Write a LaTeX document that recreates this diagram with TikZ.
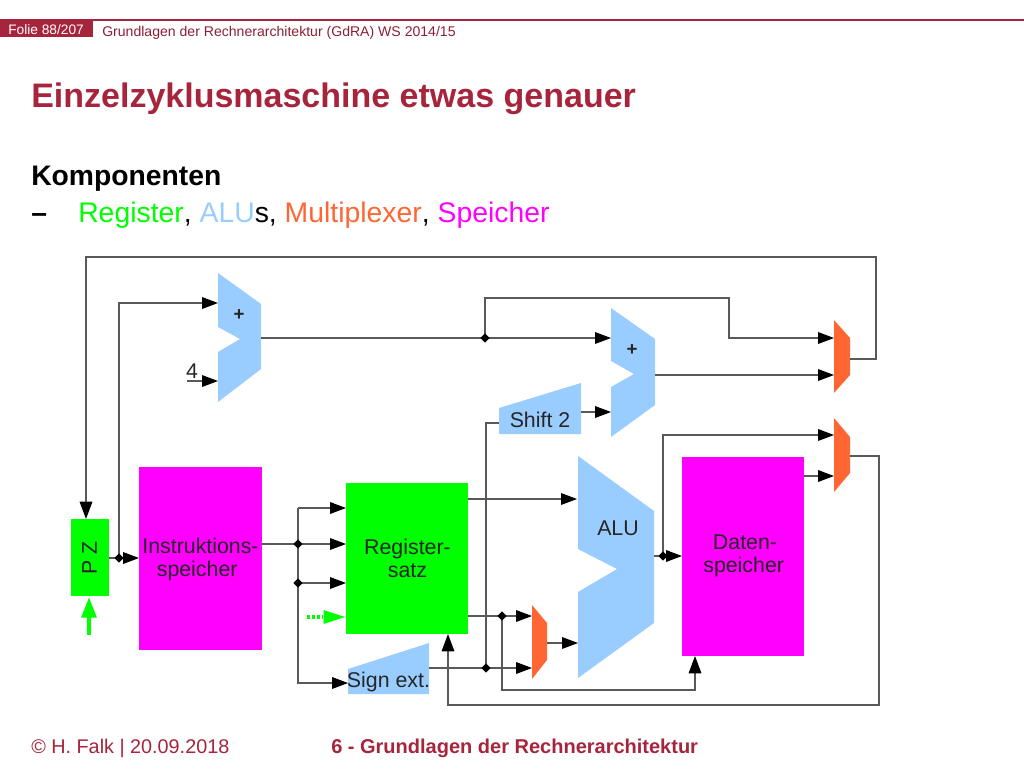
\documentclass[tikz,border=0pt]{standalone}
\usepackage{fontspec}
\setmainfont{Liberation Sans}
\usetikzlibrary{arrows.meta,shapes.geometric}
\definecolor{lred}{HTML}{A6243C}
\definecolor{lblue}{HTML}{99CCFF}
\definecolor{lorange}{HTML}{FF6633}
\definecolor{lmag}{HTML}{FF00FF}
\definecolor{lgreen}{HTML}{00FF00}
\tikzset{
  wire/.style={draw=black!65,line width=0.8pt},
  arr/.style={wire,-{Triangle[length=12pt,width=8.8pt,black]}},
  varr/.style={wire,-{Triangle[length=13pt,width=9.5pt,black]}},
  junction/.style={diamond,fill=black,inner sep=0pt,minimum size=7pt},
  block/.style={anchor=north west,inner sep=0pt,align=center},
  label/.style={inner sep=0pt,text=black!85,align=center,font=\fontsize{16}{18}\selectfont},
  ttext/.style={anchor=base west,inner sep=0pt},
}
\begin{document}
\begin{tikzpicture}[x=0.75pt,y=-0.75pt]
\useasboundingbox (0,0) rectangle (1024,768);
% header
\fill[lred] (0,20) rectangle (93,37);
\draw[lred,line width=1pt] (0,20) -- (1024,20);
\node[ttext,text=white,font=\fontsize{10.3}{12}\selectfont] (folie) at (8,34.5) {Folie 88/207};
\node[ttext,text=lred!85!black,font=\fontsize{10.55}{12}\selectfont] (head) at (102,36) {Grundlagen der Rechnerarchitektur (GdRA) WS 2014/15};
\node[ttext,text=lred,font=\bfseries\fontsize{25.5}{30}\selectfont] (title) at (31,107) {Einzelzyklusmaschine etwas genauer};
\node[ttext,text=black,font=\bfseries\fontsize{21.2}{24}\selectfont] (komp) at (31,185) {Komponenten};
\node[ttext,font=\bfseries\fontsize{21.2}{24}\selectfont] (dash) at (31,222) {–};
\node[ttext,font=\fontsize{21.27}{24}\selectfont] (list) at (78,222) {\textcolor{lgreen}{Register}, \textcolor{lblue}{ALU}s, \textcolor{lorange}{Multiplexer}, \textcolor{lmag}{Speicher}};
\node[ttext,text=lred,font=\fontsize{14.85}{18}\selectfont] (foot1) at (31,753) {© H. Falk | 20.09.2018};
\node[ttext,text=lred,font=\bfseries\fontsize{15}{18}\selectfont] (foot2) at (331,753) {6 - Grundlagen der Rechnerarchitektur};
% rectangles
\node[block,fill=lgreen,minimum width=28.5pt,minimum height=57.75pt] (pz) at (71,519) {};
\node[block,fill=lmag,minimum width=92.25pt,minimum height=137.25pt] (imem) at (139,467) {};
\node[block,fill=lgreen,minimum width=91.5pt,minimum height=113.25pt] (regs) at (346,483) {};
\node[block,fill=lmag,minimum width=91.5pt,minimum height=149.25pt] (dmem) at (682,457) {};
% ALU and adders
\fill[lblue] (578,456) -- (654,511) -- (654,623) -- (578,678) -- (578,592) -- (617,569) -- (578,549) -- cycle;
\fill[lblue] (218,273) -- (261,304) -- (261,369) -- (218,402) -- (218,352) -- (240,339) -- (218,327) -- cycle;
\fill[lblue] (611,308) -- (655,339) -- (655,405) -- (611,437) -- (611,387) -- (634,374) -- (611,361) -- cycle;
\fill[lblue] (499,408) -- (581,383) -- (581,434) -- (499,434) -- cycle;
\fill[lblue] (348,669) -- (429,643) -- (429,694) -- (348,694) -- cycle;
% multiplexers
\fill[lorange] (532,605) -- (547,623) -- (547,660) -- (532,679) -- cycle;
\fill[lorange] (834,320) -- (850,338) -- (850,375) -- (834,393) -- cycle;
\fill[lorange] (834,418) -- (850,437) -- (850,473) -- (834,492) -- cycle;
% texts
\node[label] (pzt) at (89.5,558) {\rotatebox{90}{P Z}};
\node[label,font=\fontsize{16}{17.25}\selectfont] (imt) at (200.5,559) {Instruktions-\\speicher\hspace*{5pt}};
\node[label,font=\fontsize{16}{17.25}\selectfont] (rgt) at (407.5,558.5) {Register-\\satz};
\node[label,font=\fontsize{16}{17.25}\selectfont] (dmt) at (745,556) {Daten-\\speicher\hspace*{2pt}};
\node[label] (alut) at (618,528) {ALU};
\node[label] (sh) at (540,420) {Shift 2};
\node[label] (se) at (388.5,681.5) {Sign ext.};
\node[label,font=\bfseries\fontsize{14}{16}\selectfont] (p1) at (239,315) {+};
\node[label,font=\bfseries\fontsize{14}{16}\selectfont] (p2) at (632,350) {+};
\node[label] (four) at (192,371) {4};
% ports
\foreach \n/\x/\y in {
 topR/876/359, muxTopOut/850/359, topC/876/257, topL/86/257, pzIn/86/519,
 pzOut/109/558, imIn/139/558, j1/119/558, a1Top/119/303, a1In/218/303,
 fourS/187/381, a1In2/218/381,
 a1Out/261/338, a2In/611/338, j2/485/338, b1/485/298, b2/729/298, b3/729/338, muxTopIn1/834/338,
 a2Out/655/375, muxTopIn2/834/375,
 shOut/581/412, a2In2/611/412,
 seOut/429/668, muxIn2/532/668, j3/486/668, sh1/486/423, shIn/499/423,
 r1/468/499, aluIn/577/499,
 r2/468/616, muxIn1/532/616, j4/502/616, c1/502/690, c2/695/690, c3/695/656,
 muxOut/547/643, aluIn2/578/643,
 aluOut/654/556, dIn/682/556, j5/663/556, e1/663/435, muxRIn1/834/435,
 dOut/804/476, muxRIn2/834/476,
 muxROut/850/456, f1/879/456, f2/879/705, f3/448/705, regIn/448/634,
 imOut/262/544, regI2/346/544, j6/298/544, g1/298/508, regI1/346/508,
 j7/298/583, regI3/346/583, g2/298/683, seIn/348/683,
 gd1/307/617, gd2/323/617, regI4/346/617, gu1/89/635, gu2/89/597}
 {\coordinate (\n) at (\x,\y);}
% wires
\draw[varr] (muxTopOut) -- (topR) -- (topC) -- (topL) -- (pzIn);
\draw[arr] (pzOut) -- (imIn);
\draw[arr] (j1) -- (a1Top) -- (a1In);
\draw[arr] (fourS) -- (a1In2);
\draw[arr] (a1Out) -- (a2In);
\draw[arr] (j2) -- (b1) -- (b2) -- (b3) -- (muxTopIn1);
\draw[arr] (a2Out) -- (muxTopIn2);
\draw[arr] (shOut) -- (a2In2);
\draw[arr] (seOut) -- (muxIn2);
\draw[wire] (j3) -- (sh1) -- (shIn);
\draw[arr] (r1) -- (aluIn);
\draw[arr] (r2) -- (muxIn1);
\draw[varr] (j4) -- (c1) -- (c2) -- (c3);
\draw[arr] (muxOut) -- (aluIn2);
\draw[arr] (aluOut) -- (dIn);
\draw[arr] (j5) -- (e1) -- (muxRIn1);
\draw[arr] (dOut) -- (muxRIn2);
\draw[varr] (muxROut) -- (f1) -- (f2) -- (f3) -- (regIn);
\draw[arr] (imOut) -- (regI2);
\draw[arr] (g1) -- (regI1);
\draw[arr] (j7) -- (regI3);
\draw[arr] (g1) -- (g2) -- (seIn);
% green arrows
\draw[lgreen,line width=2.6pt,dash pattern=on 2.2pt off 1.5pt] (gd1) -- (gd2);
\fill[lgreen] (323.5,610) -- (345,617) -- (323.5,624) -- cycle;
\draw[lgreen,line width=3pt,-{Triangle[length=15.5pt,width=11pt]}] (gu1) -- (gu2);
% junction dots
\foreach \j in {j1,j2,j3,j4,j5,j6,j7}
  \node[junction] at (\j) {};
\end{tikzpicture}
\end{document}
